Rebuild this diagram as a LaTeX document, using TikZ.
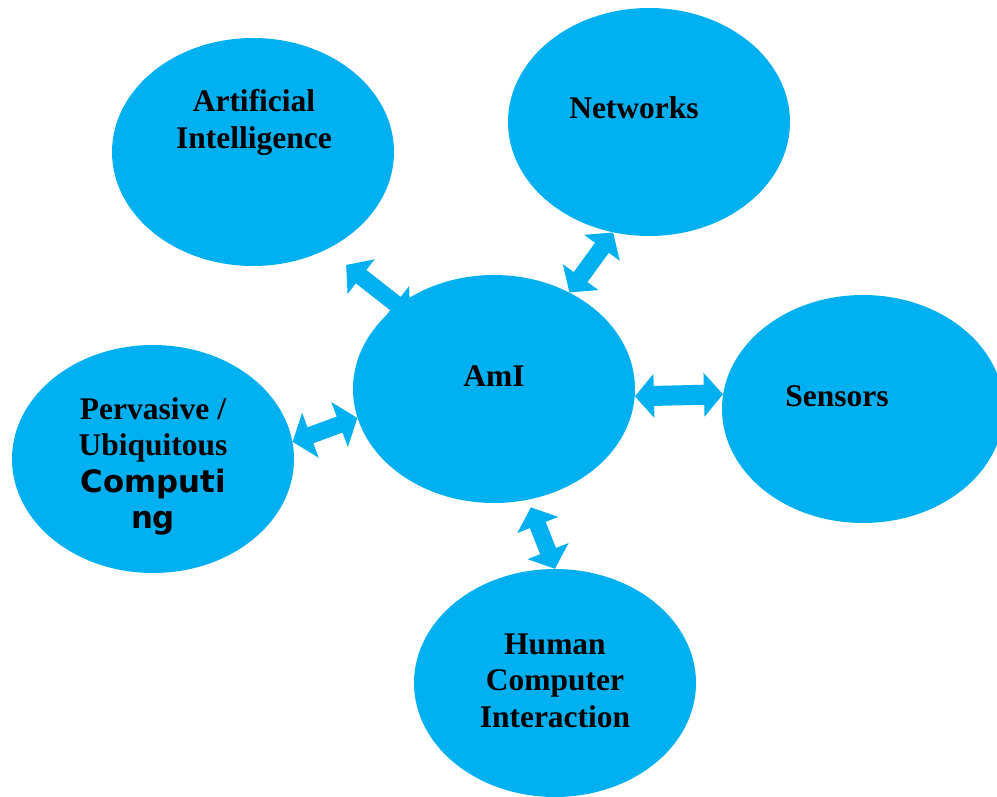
\documentclass[tikz,border=0pt]{standalone}
\usepackage{fontspec}
\setmainfont{Liberation Serif}
\newfontfamily\dejabold{DejaVu Sans}
\usetikzlibrary{shapes.geometric,arrows.meta,backgrounds}
\definecolor{amiblue}{RGB}{0,176,240}
\tikzset{
  blob/.style={ellipse, fill=amiblue, draw=none, inner sep=0pt,
    minimum width=282pt, minimum height=228pt},
  label/.style={inner sep=0pt, anchor=base, text=black,
    font=\fontsize{31.5}{36.6}\selectfont\bfseries},
  link/.style={amiblue, line width=17pt,
    {Triangle[width=43pt,length=19pt]}-{Triangle[width=43pt,length=19pt]}},
}
\newcommand{\lines}[1]{{\renewcommand\arraystretch{1}\setlength\tabcolsep{0pt}%
  \begin{tabular}[t]{c}#1\end{tabular}}}
\begin{document}
\begin{tikzpicture}[x=1pt, y=-1pt]
  \useasboundingbox (0,0) rectangle (997,797);

  % the six circles of the diagram
  \node[blob] (ai)   at (253,152) {};
  \node[blob] (net)  at (649,122) {};
  \node[blob] (ami)  at (494,389) {};
  \node[blob] (sen)  at (863,409) {};
  \node[blob] (perv) at (153,459) {};
  \node[blob] (hci)  at (555,683) {};

  % their captions
  \node[label] (aiT)   at (254,111.5) {\lines{Artificial\\Intelligence}};
  \node[label] (netT)  at (634,119)   {Networks};
  \node[label] (amiT)  at (494,386)   {AmI};
  \node[label] (senT)  at (837,406)   {Sensors};
  \node[label] (pervT) at (153,419)
    {\lines{Pervasive /\\Ubiquitous\\{\dejabold\fontsize{30.8}{36.6}\selectfont\bfseries Computi}\\
     {\dejabold\fontsize{30.8}{36.6}\selectfont\bfseries ng}}};
  \node[label] (hciT)  at (555,654)   {\lines{Human\\Computer\\Interaction}};

  % two-way links to the centre, drawn underneath the circles
  \begin{pgfonlayer}{background}
    \draw[link, shorten <=25pt, shorten >=-16pt] (ai.-53) -- (ami.139);
    \draw[link] (net.-108) -- (ami.52);
    \draw[link, line width=20pt] (ami.-3) -- (sen.174);
    \draw[link, {Triangle[width=47pt,length=19pt]}-{Triangle[width=47pt,length=19pt]}]
      (perv.7) -- (ami.192.6);
    \draw[link, shorten <=8pt] (ami.-73) -- (hci.90);
  \end{pgfonlayer}
\end{tikzpicture}
\end{document}
